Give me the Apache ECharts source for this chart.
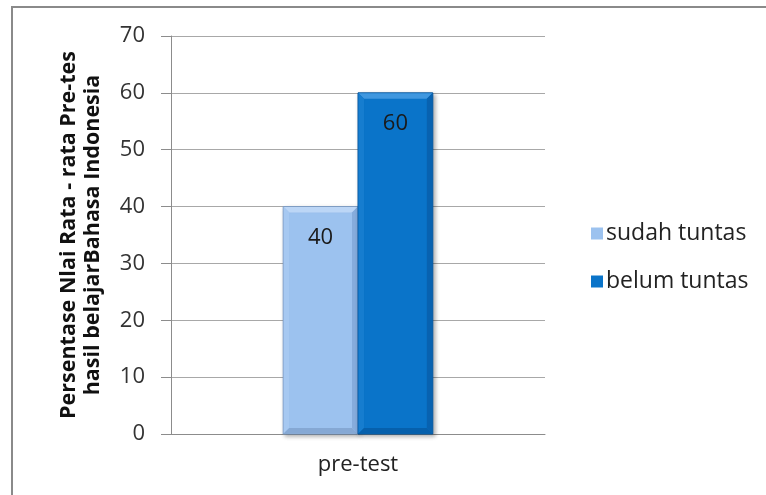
<!DOCTYPE html>
<html>
<head>
<meta charset="utf-8">
<script src="https://cdn.jsdelivr.net/npm/echarts@6/dist/echarts.min.js"></script>
<style>
  html, body { margin: 0; padding: 0; background: #fff; }
  #chart { width: 766px; height: 495px; }
</style>
</head>
<body>
<div id="chart"></div>
<script>
// Chart data
const categories = ['pre-test'];
const seriesNames = ['sudah tuntas', 'belum tuntas'];
const sudahTuntas = [40];
const belumTuntas = [60];
const yTicks = { min: 0, max: 70, interval: 10 };
const yAxisTitle = 'Persentase Nlai Rata - rata Pre-tes\nhasil belajarBahasa Indonesia';

const FONT = 'Open Sans';

// Bevelled bar palettes: face, top, left, right, bottom
const palettes = [
  { face: '#9cc2ef', top: '#bcd6f6', left: '#a6c8f1', right: '#86acdc', bottom: '#85a8d4', edge: '#7d9cc4' },
  { face: '#0a74c9', top: '#3f97df', left: '#167dcf', right: '#0862b0', bottom: '#0660ac', edge: '#07549a' }
];

function makeRender(idx) {
  return function (params, api) {
    const cat = api.value(0);
    const val = api.value(1);
    const base = api.coord([cat, 0]);
    const top = api.coord([cat, val]);
    const band = api.size([1, 0])[0];
    const w = band * 0.2;
    const x0 = base[0] + (idx === 0 ? -w : 0);
    const x1 = x0 + w;
    const y0 = top[1];
    const y1 = base[1];
    const b = 6;
    const p = palettes[idx];
    return {
      type: 'group',
      children: [
        { type: 'rect', shape: { x: x0, y: y0, width: w, height: y1 - y0 },
          style: { fill: p.face, stroke: p.edge, lineWidth: 1,
                   shadowBlur: 4, shadowOffsetX: 2, shadowOffsetY: 2, shadowColor: 'rgba(0,0,0,0.3)' } },
        { type: 'polygon', shape: { points: [[x0 + 0.5, y0 + 0.5], [x1 - 0.5, y0 + 0.5], [x1 - b, y0 + b], [x0 + b, y0 + b]] },
          style: { fill: p.top } },
        { type: 'polygon', shape: { points: [[x0 + 0.5, y0 + 0.5], [x0 + b, y0 + b], [x0 + b, y1 - b], [x0 + 0.5, y1 - 0.5]] },
          style: { fill: p.left } },
        { type: 'polygon', shape: { points: [[x1 - 0.5, y0 + 0.5], [x1 - 0.5, y1 - 0.5], [x1 - b, y1 - b], [x1 - b, y0 + b]] },
          style: { fill: p.right } },
        { type: 'polygon', shape: { points: [[x0 + 0.5, y1 - 0.5], [x0 + b, y1 - b], [x1 - b, y1 - b], [x1 - 0.5, y1 - 0.5]] },
          style: { fill: p.bottom } },
        { type: 'text', style: { text: String(val), x: (x0 + x1) / 2, y: y0 + 31,
          align: 'center', verticalAlign: 'middle', fontFamily: FONT, fontSize: 22, fill: '#1a1a1a' } }
      ]
    };
  };
}

const chart = echarts.init(document.getElementById('chart'), null, { renderer: 'canvas' });
chart.setOption({
  animation: false,
  backgroundColor: '#ffffff',
  textStyle: { fontFamily: FONT },
  graphic: [
    { type: 'polyline', shape: { points: [[12, 495], [12, 7], [766, 7]] },
      style: { stroke: '#8a8a8a', lineWidth: 2, fill: null } }
  ],
  grid: { left: 171, top: 36, right: 221, bottom: 61 },
  legend: {
    orient: 'vertical',
    left: 586,
    top: 217,
    itemWidth: 12,
    itemHeight: 12,
    itemGap: 25,
    icon: 'rect',
    textStyle: { fontFamily: FONT, fontSize: 23, color: '#222', padding: [0, 0, 0, -2] },
    data: seriesNames
  },
  xAxis: {
    type: 'category',
    data: categories,
    axisLine: { show: true, lineStyle: { color: '#8c8c8c' } },
    axisTick: { show: false },
    axisLabel: { fontFamily: FONT, fontSize: 22, color: '#222', margin: 20 }
  },
  yAxis: {
    type: 'value',
    min: yTicks.min,
    max: yTicks.max,
    interval: yTicks.interval,
    name: yAxisTitle,
    nameLocation: 'middle',
    nameGap: 66,
    nameTextStyle: { fontFamily: FONT, fontSize: 21.5, fontWeight: 'bold', color: '#111', lineHeight: 24 },
    axisLine: { show: true, lineStyle: { color: '#8c8c8c' } },
    axisTick: { show: true, length: 10, lineStyle: { color: '#8c8c8c' } },
    axisLabel: { fontFamily: FONT, fontSize: 22, color: '#333', margin: 26 },
    splitLine: { lineStyle: { color: '#a8a8a8' } }
  },
  series: [
    { name: seriesNames[0], type: 'custom', renderItem: makeRender(0),
      itemStyle: { color: palettes[0].face },
      data: sudahTuntas.map((v, i) => [i, v]) },
    { name: seriesNames[1], type: 'custom', renderItem: makeRender(1),
      itemStyle: { color: palettes[1].face },
      data: belumTuntas.map((v, i) => [i, v]) }
  ]
});
</script>
</body>
</html>
